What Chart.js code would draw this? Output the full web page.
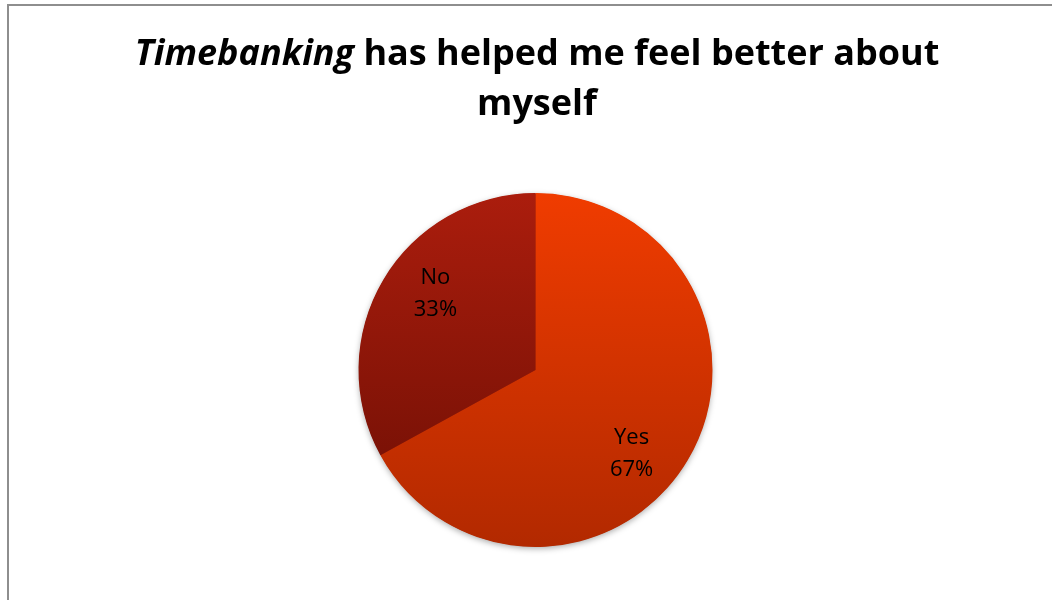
<!DOCTYPE html>
<html>
<head>
<meta charset="utf-8">
<script src="https://cdn.jsdelivr.net/npm/chart.js@4.4.0/dist/chart.umd.min.js"></script>
<style>
  html, body { margin: 0; padding: 0; background: #fff; overflow: hidden; }
  #frame {
    position: absolute; left: 7px; top: 4px; width: 1200px; height: 700px;
    border-left: 2px solid #8e8e8e; border-top: 2px solid #8e8e8e;
  }
  #wrap { position: absolute; left: 0; top: 0; width: 1052px; height: 600px; }
</style>
</head>
<body>
<div id="frame"></div>
<div id="wrap"><canvas id="pieChart" width="1052" height="600"></canvas></div>
<script>
// Kategori dan nilai
const categories = ['Yes', 'No'];
const percentValues = [67, 33];

// Judul (bagian miring + bagian tebal)
const titleItalic = 'Timebanking';
const titleRest = ' has helped me feel better about';
const titleLine2 = 'myself';

// Warna gradien per irisan [atas, bawah]
const sliceColors = [
    ['#f03c00', '#b22900'],
    ['#ab1d0d', '#7c1206']
];

const FONT = '"Open Sans", "Liberation Sans", sans-serif';

function sliceGradient(context) {
    const chart = context.chart;
    const area = chart.chartArea;
    if (!area) return sliceColors[context.dataIndex][0];
    const idx = context.dataIndex;
    const ctx = chart.ctx;
    const top = area.top;
    const bottom = idx === 0 ? area.bottom : area.top + (area.bottom - area.top) * 0.73;
    const g = ctx.createLinearGradient(0, top, 0, bottom);
    g.addColorStop(0, sliceColors[idx][0]);
    g.addColorStop(1, sliceColors[idx][1]);
    return g;
}

// Bayangan tipis di bawah lingkaran
const shadowPlugin = {
    id: 'pieShadow',
    beforeDatasetsDraw(chart) {
        const arc = chart.getDatasetMeta(0).data[0];
        if (!arc) return;
        const ctx = chart.ctx;
        ctx.save();
        ctx.shadowColor = 'rgba(0,0,0,0.35)';
        ctx.shadowBlur = 6;
        ctx.shadowOffsetY = 2;
        ctx.fillStyle = '#b22900';
        ctx.beginPath();
        ctx.arc(arc.x, arc.y, arc.outerRadius - 0.5, 0, Math.PI * 2);
        ctx.fill();
        ctx.restore();
    }
};

// Label di dalam irisan
const labelPlugin = {
    id: 'sliceLabels',
    afterDatasetsDraw(chart) {
        const ctx = chart.ctx;
        const meta = chart.getDatasetMeta(0);
        ctx.save();
        ctx.fillStyle = '#000';
        ctx.font = '22px ' + FONT;
        ctx.textAlign = 'center';
        ctx.textBaseline = 'middle';
        meta.data.forEach((arc, i) => {
            const mid = (arc.startAngle + arc.endAngle) / 2 + 0.15;
            const r = arc.outerRadius * 0.715;
            const x = arc.x + Math.cos(mid) * r;
            const y = arc.y + Math.sin(mid) * r;
            ctx.fillText(categories[i], x - 2, y - 12);
            ctx.fillText(percentValues[i] + '%', x - 2, y + 20);
        });
        ctx.restore();
    }
};

// Judul dengan bagian miring
const titlePlugin = {
    id: 'mixedTitle',
    afterDraw(chart) {
        const ctx = chart.ctx;
        ctx.save();
        ctx.fillStyle = '#000';
        ctx.textBaseline = 'middle';
        // sesuaikan ukuran font agar lebar baris pertama sekitar 805px
        ctx.font = 'italic bold 100px ' + FONT;
        let w1 = ctx.measureText(titleItalic).width;
        ctx.font = 'bold 100px ' + FONT;
        let w2 = ctx.measureText(titleRest).width;
        const size = Math.min(38, 100 * 805 / (w1 + w2));
        ctx.font = 'italic bold ' + size + 'px ' + FONT;
        w1 = ctx.measureText(titleItalic).width;
        ctx.font = 'bold ' + size + 'px ' + FONT;
        w2 = ctx.measureText(titleRest).width;
        const cx = 537;
        const x0 = cx - (w1 + w2) / 2;
        ctx.textAlign = 'left';
        ctx.font = 'italic bold ' + size + 'px ' + FONT;
        ctx.fillText(titleItalic, x0, 55);
        ctx.font = 'bold ' + size + 'px ' + FONT;
        ctx.fillText(titleRest, x0 + w1, 55);
        ctx.textAlign = 'center';
        ctx.fillText(titleLine2, cx, 105);
        ctx.restore();
    }
};

const config = {
    type: 'pie',
    data: {
        labels: categories,
        datasets: [{
            data: percentValues,
            backgroundColor: sliceGradient,
            borderWidth: 0
        }]
    },
    options: {
        responsive: false,
        animation: false,
        layout: {
            padding: { top: 193, bottom: 53, left: 19, right: 0 }
        },
        plugins: {
            legend: { display: false },
            title: { display: false },
            tooltip: { enabled: false }
        }
    },
    plugins: [shadowPlugin, labelPlugin, titlePlugin]
};

const ctx = document.getElementById('pieChart').getContext('2d');
const myChart = new Chart(ctx, config);
</script>
</body>
</html>
